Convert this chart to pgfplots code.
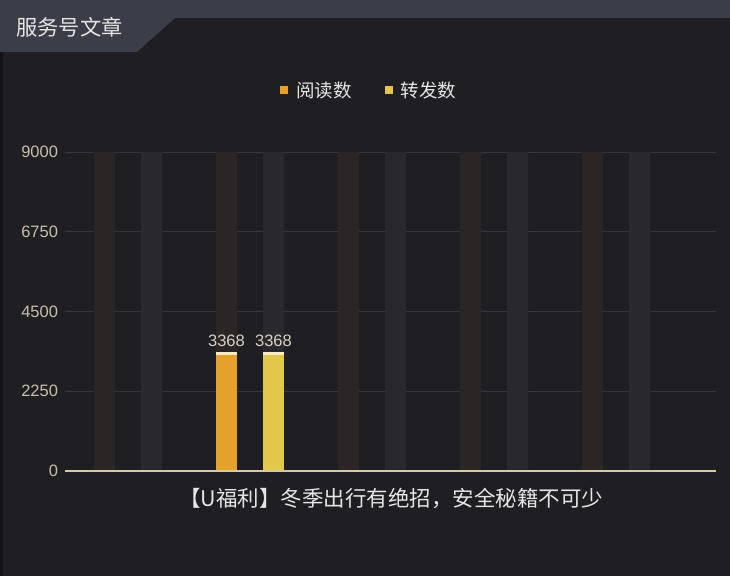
\documentclass[border=0pt]{standalone}
\usepackage{pgfplots}
\pgfplotsset{compat=1.18}
\usepackage{fontspec}
\setmainfont{Liberation Sans}
\newfontfamily\cjk{Noto Sans CJK SC}
\definecolor{bg}{HTML}{1E1E23}
\definecolor{edge}{HTML}{141418}
\definecolor{strip}{HTML}{3B3D48}
\definecolor{gridc}{HTML}{36363C}
\definecolor{axisline}{HTML}{D9C9A0}
\definecolor{ticktext}{HTML}{C9BFA8}
\definecolor{valtext}{HTML}{D8D0C2}
\definecolor{shadowA}{HTML}{2C2525}
\definecolor{shadowB}{HTML}{29292D}
\definecolor{barA}{HTML}{E4A12B}
\definecolor{barB}{HTML}{E2C74B}
\definecolor{cap}{HTML}{FBEBC0}
\definecolor{labeltext}{HTML}{E6E6E6}

\begin{document}
\begin{tikzpicture}[x=1pt,y=1pt]
\fill[bg] (0,0) rectangle (730,-576);
\fill[edge] (0,0) rectangle (3,-576);
\fill[strip] (0,0) rectangle (730,-18);
\fill[strip] (0,-18) -- (175,-18) -- (137,-52) -- (0,-52) -- cycle;
\node[anchor=west, text=labeltext, font=\cjk\fontsize{21.3}{24}\selectfont, inner sep=0pt] at (16,-27) {服务号文章};
\begin{axis}[
  at={(65pt,-471pt)}, anchor=south west,
  scale only axis, width=651pt, height=319pt,
  xmin=65, xmax=716, ymin=0, ymax=9000,
  axis line style={draw=none},
  major tick length=0pt,
  xtick=\empty,
  ytick={0,2250,4500,6750,9000},
  ymajorgrids,
  grid style={gridc, line width=1pt},
  /pgf/number format/assume math mode=true,
  /pgf/number format/1000 sep={},
  yticklabel style={text=ticktext, font=\fontsize{16.5}{18}\selectfont, xshift=-3.5pt},
  legend columns=2,
  legend style={at={(axis description cs:0.3303,1.194)}, anchor=west,
    draw=none, fill=none, inner sep=0pt, text=labeltext,
    font=\cjk\fontsize{18.5}{20}\selectfont,
    nodes={inner sep=0pt},
    /tikz/every odd column/.append style={column sep=8pt},
    /tikz/every even column/.append style={column sep=33pt}},
  clip=false,
]
\addplot[ybar, bar width=21, bar shift=0pt, fill=shadowA, draw=none, forget plot]
  coordinates {(104.5,9000) (226.5,9000) (348.5,9000) (470.5,9000) (592.5,9000)};
\addplot[ybar, bar width=21, bar shift=0pt, fill=shadowB, draw=none, forget plot]
  coordinates {(151.5,9000) (273.5,9000) (395.5,9000) (517.5,9000) (639.5,9000)};
\addplot[ybar, bar width=21, bar shift=0pt, fill=barA, draw=none,
  legend image code/.code={\fill[barA] (0pt,-4pt) rectangle (8pt,4pt);},
  nodes near coords,
  nodes near coords style={text=valtext, font=\fontsize{16.5}{18}\selectfont, anchor=south, inner sep=0pt, yshift=5pt}]
  coordinates {(226.5,3368)};
\addlegendentry{阅读数}
\addplot[ybar, bar width=21, bar shift=0pt, fill=barB, draw=none,
  legend image code/.code={\fill[barB] (0pt,-4pt) rectangle (8pt,4pt);},
  nodes near coords,
  nodes near coords style={text=valtext, font=\fontsize{16.5}{18}\selectfont, anchor=south, inner sep=0pt, yshift=5pt}]
  coordinates {(273.5,3368)};
\addlegendentry{转发数}
\addplot[only marks, mark=-, mark size=10.5pt, mark options={draw=cap, line width=3pt}, forget plot]
  coordinates {(226.5,3326) (273.5,3326)};
\draw[axisline, line width=1.6pt] (axis cs:65,0) -- (axis cs:716,0);
\node[font=\cjk\fontsize{21.5}{24}\selectfont, text=labeltext, inner sep=0pt] at (axis cs:391,0) [yshift=-27pt] {【U福利】冬季出行有绝招，安全秘籍不可少};
\end{axis}
\end{tikzpicture}
\end{document}
